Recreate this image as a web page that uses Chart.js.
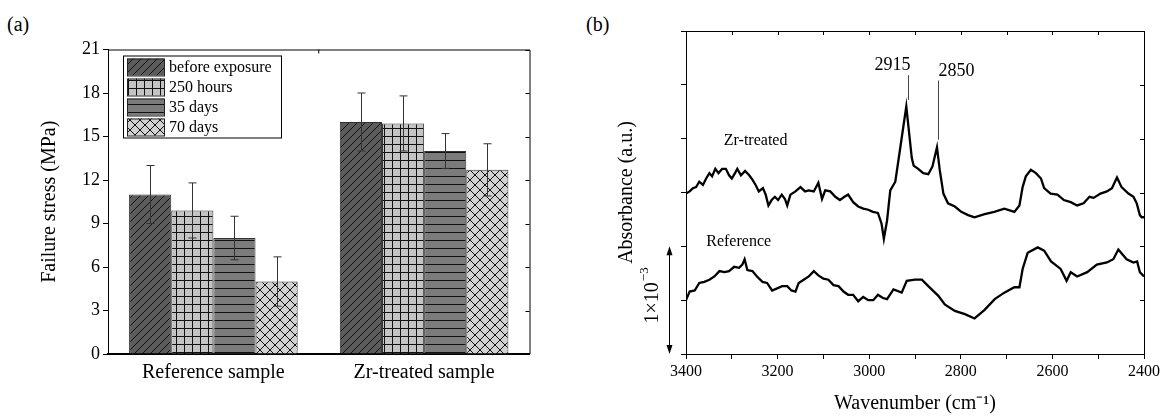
<!DOCTYPE html>
<html>
<head>
<meta charset="utf-8">
<script src="https://cdn.jsdelivr.net/npm/chart.js@4.4.0/dist/chart.umd.min.js"></script>
<style>
  body { margin: 0; background: #fff; width: 1163px; height: 416px; overflow: hidden; position: relative; font-family: 'Liberation Serif', 'Times New Roman', serif; }
  #wrapA { position: absolute; left: 0; top: 0; width: 575px; height: 416px; }
  #wrapB { position: absolute; left: 575px; top: 0; width: 588px; height: 416px; }
  .panel { position: absolute; font-size: 20px; color: #000; line-height: 20px; }
</style>
</head>
<body>
<div class="panel" style="left:7px;top:14px;">(a)</div>
<div class="panel" style="left:586px;top:14px;">(b)</div>
<div id="wrapA"><canvas id="stress-chart" width="575" height="416"></canvas></div>
<div id="wrapB"><canvas id="ir-chart" width="588" height="416"></canvas></div>
<script>
// DATA (a) failure stress
var categories = ['Reference sample', 'Zr-treated sample'];
var seriesNames = ['before exposure', '250 hours', '35 days', '70 days'];
var beforeExposure = [11.0, 16.0];
var hours250 = [9.9, 15.9];
var days35 = [8.0, 14.0];
var days70 = [5.0, 12.7];
var beforeExposureErr = [2.0, 2.0];
var hours250Err = [1.9, 1.9];
var days35Err = [1.5, 1.2];
var days70Err = [1.7, 1.8];
var stressTicks = [0, 3, 6, 9, 12, 15, 18, 21];

// DATA (b) IR spectra, absorbance in units of 1e-3 (offset traces)
var refWavenumber = [3400, 3392, 3381, 3371, 3360, 3349, 3338, 3327, 3316, 3306, 3295, 3284, 3277, 3272, 3266, 3255,
    3245, 3233, 3223, 3212, 3201, 3190, 3179, 3170, 3161, 3154, 3143, 3132, 3121, 3111, 3100, 3089, 3078, 3067, 3056,
    3046, 3035, 3024, 3013, 3002, 2991, 2981, 2970,
    2961, 2947, 2929, 2918, 2900, 2885, 2871, 2849, 2835, 2813, 2791, 2770, 2748, 2726, 2705, 2683, 2672, 2665, 2654,
    2632, 2618, 2603, 2582, 2569, 2560, 2546, 2524, 2503, 2481, 2467, 2456, 2438, 2423, 2415, 2409, 2400];
var refAbsorbance = [0.50, 0.58, 0.59, 0.66, 0.67, 0.69, 0.72, 0.77, 0.76, 0.77, 0.81, 0.80, 0.83, 0.88, 0.78, 0.77,
    0.72, 0.67, 0.66, 0.59, 0.61, 0.63, 0.63, 0.59, 0.58, 0.66, 0.69, 0.72, 0.77, 0.73, 0.70, 0.69, 0.64, 0.63, 0.58,
    0.55, 0.55, 0.49, 0.53, 0.50, 0.50, 0.55, 0.52,
    0.51, 0.60, 0.57, 0.68, 0.69, 0.69, 0.63, 0.54, 0.46, 0.40, 0.37, 0.33, 0.41, 0.51, 0.57, 0.62, 0.62, 0.79, 0.94,
    0.99, 0.96, 0.86, 0.79, 0.68, 0.76, 0.72, 0.76, 0.83, 0.85, 0.88, 0.97, 0.88, 0.85, 0.86, 0.76, 0.72];
var zrWavenumber = [3400, 3392, 3385, 3378, 3371, 3363, 3356, 3349, 3343, 3336, 3329, 3321, 3313, 3306, 3300, 3293,
    3288, 3280, 3271, 3262, 3255, 3248, 3241, 3232, 3226, 3220, 3213, 3206, 3199, 3191, 3184, 3179, 3172, 3161, 3150,
    3140, 3132, 3121, 3111, 3103, 3096, 3085, 3074, 3064, 3054, 3046, 3035, 3024, 3013, 3002, 2992, 2981, 2973,
    2968, 2961, 2954, 2943, 2932, 2919, 2907, 2903, 2893, 2882, 2871, 2862, 2852, 2846, 2838, 2828, 2813, 2799, 2784,
    2770, 2748, 2727, 2705, 2683, 2672, 2665, 2658, 2647, 2636, 2625, 2618, 2604, 2589, 2575, 2560, 2546, 2532, 2519,
    2510, 2495, 2481, 2470, 2459, 2449, 2434, 2423, 2416, 2409, 2405, 2400];
var zrAbsorbance = [1.49, 1.51, 1.54, 1.55, 1.60, 1.57, 1.63, 1.68, 1.65, 1.72, 1.68, 1.72, 1.72, 1.66, 1.63, 1.68,
    1.72, 1.66, 1.70, 1.66, 1.62, 1.57, 1.51, 1.54, 1.48, 1.38, 1.43, 1.46, 1.43, 1.48, 1.44, 1.38, 1.48, 1.51, 1.55,
    1.51, 1.52, 1.51, 1.59, 1.44, 1.52, 1.51, 1.46, 1.43, 1.46, 1.48, 1.41, 1.37, 1.35, 1.34, 1.32, 1.31, 1.21,
    1.07, 1.24, 1.52, 1.60, 1.92, 2.30, 1.82, 1.75, 1.72, 1.68, 1.67, 1.74, 1.92, 1.71, 1.49, 1.40, 1.37, 1.32, 1.29,
    1.27, 1.30, 1.32, 1.35, 1.32, 1.38, 1.55, 1.65, 1.71, 1.68, 1.63, 1.54, 1.49, 1.48, 1.43, 1.41, 1.38, 1.40, 1.46,
    1.45, 1.49, 1.51, 1.54, 1.64, 1.55, 1.49, 1.46, 1.40, 1.29, 1.27, 1.27];
var wavenumberTicks = [3400, 3200, 3000, 2800, 2600, 2400];

Chart.defaults.font.family = "'Liberation Serif', 'Times New Roman', serif";
Chart.defaults.color = '#000';

function toPoints(xs, ys) {
    return xs.map(function(x, i) { return { x: x, y: ys[i] }; });
}

// hatch patterns for the bars
function makePattern(ctx, bg, size, draw) {
    var c = document.createElement('canvas');
    c.width = size;
    c.height = size;
    var g = c.getContext('2d');
    g.fillStyle = bg;
    g.fillRect(0, 0, size, size);
    g.strokeStyle = '#111';
    g.lineWidth = 1;
    g.beginPath();
    draw(g, size);
    g.stroke();
    return ctx.createPattern(c, 'repeat');
}
function diagUp(g, s) {
    g.moveTo(0, s); g.lineTo(s, 0);
    g.moveTo(-1, 1); g.lineTo(1, -1);
    g.moveTo(s - 1, s + 1); g.lineTo(s + 1, s - 1);
}
function diagDown(g, s) {
    g.moveTo(0, 0); g.lineTo(s, s);
    g.moveTo(-1, s - 1); g.lineTo(1, s + 1);
    g.moveTo(s - 1, -1); g.lineTo(s + 1, 1);
}

var canvasA = document.getElementById('stress-chart');
var ctxA = canvasA.getContext('2d');
var fills = [
    makePattern(ctxA, '#5c5c5c', 8, diagUp),
    makePattern(ctxA, '#c4c4c4', 8, function(g, s) { g.moveTo(0.5, 0); g.lineTo(0.5, s); g.moveTo(0, 0.5); g.lineTo(s, 0.5); }),
    makePattern(ctxA, '#7b7b7b', 8, function(g, s) { g.moveTo(0, 0.5); g.lineTo(s, 0.5); }),
    makePattern(ctxA, '#d2d2d2', 10, function(g, s) { diagUp(g, s); diagDown(g, s); })
];

var values = [beforeExposure, hours250, days35, days70];
var errors = [beforeExposureErr, hours250Err, days35Err, days70Err];

var barExtras = {
    id: 'barExtras',
    afterDatasetsDraw: function(chart) {
        var ctx = chart.ctx, ys = chart.scales.y;
        ctx.save();
        ctx.strokeStyle = '#333';
        ctx.lineWidth = 1;
        chart.data.datasets.forEach(function(ds, d) {
            chart.getDatasetMeta(d).data.forEach(function(bar, i) {
                var hi = ys.getPixelForValue(ds.data[i] + ds.errors[i]);
                var lo = ys.getPixelForValue(ds.data[i] - ds.errors[i]);
                var x = Math.round(bar.x) + 0.5;
                ctx.beginPath();
                ctx.moveTo(x, hi); ctx.lineTo(x, lo);
                ctx.moveTo(x - 4, hi); ctx.lineTo(x + 4, hi);
                ctx.moveTo(x - 4, lo); ctx.lineTo(x + 4, lo);
                ctx.stroke();
            });
        });
        ctx.restore();
    },
    afterDraw: function(chart) {
        var ctx = chart.ctx, a = chart.chartArea, ys = chart.scales.y, xs = chart.scales.x;
        ctx.save();
        // frame + mirrored ticks
        ctx.strokeStyle = '#000';
        ctx.lineWidth = 1;
        ctx.beginPath();
        ctx.moveTo(a.left, a.top + 0.5); ctx.lineTo(a.right + 0.5, a.top + 0.5); ctx.lineTo(a.right + 0.5, a.bottom);
        ys.ticks.forEach(function(t) {
            var py = Math.round(ys.getPixelForValue(t.value)) + 0.5;
            ctx.moveTo(a.right, py); ctx.lineTo(a.right - 4, py);
        });
        var mid = (xs.getPixelForValue(0) + xs.getPixelForValue(1)) / 2;
        ctx.moveTo(mid, a.top); ctx.lineTo(mid, a.top + 4);
        ctx.stroke();

        // legend inside the plot
        var lx = a.left + 15, ly = a.top + 6, lw = 158, lh = 82;
        ctx.fillStyle = '#fff';
        ctx.fillRect(lx, ly, lw, lh);
        ctx.strokeRect(lx + 0.5, ly + 0.5, lw, lh);
        ctx.font = "16px 'Liberation Serif', serif";
        ctx.textBaseline = 'middle';
        chart.data.datasets.forEach(function(ds, i) {
            var ry = ly + 3 + i * 20;
            ctx.fillStyle = ds.backgroundColor;
            ctx.fillRect(lx + 4, ry, 37, 17);
            ctx.strokeStyle = '#222';
            ctx.strokeRect(lx + 4.5, ry + 0.5, 37, 17);
            ctx.fillStyle = '#000';
            ctx.fillText(ds.label, lx + 46, ry + 9);
        });
        ctx.restore();
    }
};

var stressChart = new Chart(canvasA, {
    type: 'bar',
    data: {
        labels: categories,
        datasets: seriesNames.map(function(name, i) {
            return {
                label: name,
                data: values[i],
                errors: errors[i],
                backgroundColor: fills[i],
                borderColor: '#333',
                borderWidth: 1,
                barPercentage: 1.0,
                categoryPercentage: 0.8
            };
        })
    },
    options: {
        responsive: false,
        animation: false,
        layout: { padding: { top: 49.5, right: 45.5, left: 0, bottom: 0 } },
        plugins: { legend: { display: false }, tooltip: { enabled: false } },
        scales: {
            x: {
                grid: { drawOnChartArea: false, drawTicks: false },
                border: { display: true, color: '#000', width: 2 },
                ticks: { font: { size: 20 }, color: '#000', padding: 7 },
                afterFit: function(s) { s.height = 62; }
            },
            y: {
                min: 0,
                max: 21,
                grid: { drawOnChartArea: false, drawTicks: true, tickLength: 5, color: '#000' },
                border: { display: true, color: '#000', width: 1 },
                ticks: {
                    stepSize: 1.5,
                    font: { size: 18 },
                    color: '#000',
                    padding: 3,
                    callback: function(v) { return stressTicks.indexOf(v) >= 0 ? v : ''; }
                },
                title: { display: true, text: 'Failure stress (MPa)', font: { size: 20 }, color: '#000', padding: { top: 38, bottom: 0 } },
                afterFit: function(s) { s.width = 108; }
            }
        }
    },
    plugins: [barExtras]
});

// (b) spectra
var spectrumNotes = {
    id: 'spectrumNotes',
    afterDraw: function(chart) {
        var ctx = chart.ctx, a = chart.chartArea, xs = chart.scales.x, ys = chart.scales.y;
        ctx.save();
        ctx.strokeStyle = '#000';
        ctx.lineWidth = 1;
        ctx.beginPath();
        ctx.moveTo(a.left, a.top + 0.5); ctx.lineTo(a.right + 0.5, a.top + 0.5); ctx.lineTo(a.right + 0.5, a.bottom);
        xs.ticks.forEach(function(t) {
            var px = Math.round(xs.getPixelForValue(t.value)) + 0.5;
            ctx.moveTo(px, a.top); ctx.lineTo(px, a.top + 4);
        });
        ys.ticks.forEach(function(t) {
            var py = Math.round(ys.getPixelForValue(t.value)) + 0.5;
            ctx.moveTo(a.right, py); ctx.lineTo(a.right - 4, py);
        });
        ctx.stroke();

        // peak markers
        ctx.strokeStyle = '#444';
        ctx.beginPath();
        var p1 = Math.round(xs.getPixelForValue(2915)) + 0.5;
        var p2 = Math.round(xs.getPixelForValue(2850)) + 0.5;
        ctx.moveTo(p1, ys.getPixelForValue(2.59)); ctx.lineTo(p1, ys.getPixelForValue(2.36));
        ctx.moveTo(p2, ys.getPixelForValue(2.54)); ctx.lineTo(p2, ys.getPixelForValue(1.99));
        ctx.stroke();

        ctx.fillStyle = '#000';
        ctx.textBaseline = 'middle';
        ctx.font = "18px 'Liberation Serif', serif";
        ctx.textAlign = 'right';
        ctx.fillText('2915', p1 + 2, ys.getPixelForValue(2.68));
        ctx.textAlign = 'left';
        ctx.fillText('2850', p2, ys.getPixelForValue(2.63));

        ctx.font = "16px 'Liberation Serif', serif";
        ctx.textAlign = 'center';
        ctx.fillText('Zr-treated', xs.getPixelForValue(3248), ys.getPixelForValue(1.98));
        ctx.fillText('Reference', xs.getPixelForValue(3285), ys.getPixelForValue(1.04));

        // scale bar 1e-3
        var ax = a.left - 17 + 0.5;
        var top = ys.getPixelForValue(1.0), bot = ys.getPixelForValue(0);
        ctx.strokeStyle = '#000';
        ctx.beginPath();
        ctx.moveTo(ax, top + 2); ctx.lineTo(ax, bot - 2);
        ctx.stroke();
        ctx.beginPath();
        ctx.moveTo(ax, top); ctx.lineTo(ax - 3, top + 9); ctx.lineTo(ax + 3, top + 9); ctx.closePath();
        ctx.moveTo(ax, bot); ctx.lineTo(ax - 3, bot - 9); ctx.lineTo(ax + 3, bot - 9); ctx.closePath();
        ctx.fill();

        ctx.translate(a.left - 33, ys.getPixelForValue(0.54));
        ctx.rotate(-Math.PI / 2);
        ctx.textAlign = 'left';
        ctx.font = "20px 'Liberation Serif', serif";
        var w = ctx.measureText('1\u00d710').width;
        ctx.font = "13px 'Liberation Serif', serif";
        var w2 = ctx.measureText('\u22123').width;
        var start = -(w + w2) / 2;
        ctx.font = "20px 'Liberation Serif', serif";
        ctx.fillText('1\u00d710', start, 0);
        ctx.font = "13px 'Liberation Serif', serif";
        ctx.fillText('\u22123', start + w + 1, -8);
        ctx.restore();
    }
};

var irChart = new Chart(document.getElementById('ir-chart'), {
    type: 'line',
    data: {
        datasets: [{
            label: 'Zr-treated',
            data: toPoints(zrWavenumber, zrAbsorbance),
            borderColor: '#000',
            borderWidth: 2.3,
            pointRadius: 0,
            tension: 0
        }, {
            label: 'Reference',
            data: toPoints(refWavenumber, refAbsorbance),
            borderColor: '#000',
            borderWidth: 2.3,
            pointRadius: 0,
            tension: 0
        }]
    },
    options: {
        responsive: false,
        animation: false,
        layout: { padding: { top: 31, right: 17, left: 0, bottom: 0 } },
        plugins: { legend: { display: false }, tooltip: { enabled: false } },
        scales: {
            x: {
                type: 'linear',
                reverse: true,
                min: 2400,
                max: 3400,
                grid: { drawOnChartArea: false, drawTicks: true, tickLength: 5, color: '#000' },
                border: { display: true, color: '#000', width: 1 },
                ticks: {
                    stepSize: 100,
                    font: { size: 16 },
                    color: '#000',
                    padding: 3,
                    maxRotation: 0,
                    autoSkip: false,
                    callback: function(v) { return wavenumberTicks.indexOf(v) >= 0 ? String(v) : ''; }
                },
                title: { display: true, text: 'Wavenumber (cm\u207b\u00b9)', font: { size: 20 }, color: '#000', padding: { top: 0, bottom: 0 } },
                afterFit: function(s) { s.height = 62; }
            },
            y: {
                min: 0,
                max: 3,
                grid: { drawOnChartArea: false, drawTicks: true, tickLength: 5, color: '#000' },
                border: { display: true, color: '#000', width: 1 },
                ticks: { stepSize: 0.5, callback: function() { return ''; } },
                title: { display: true, text: 'Absorbance (a.u.)', font: { size: 20 }, color: '#000', padding: { top: 40, bottom: 0 } },
                afterFit: function(s) { s.width = 111; }
            }
        }
    },
    plugins: [spectrumNotes]
});
</script>
</body>
</html>
